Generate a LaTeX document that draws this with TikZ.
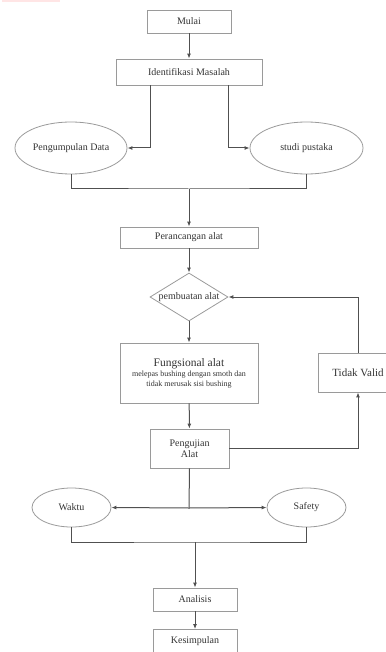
\documentclass[tikz,border=0pt]{standalone}
\usepackage{fontspec}
\setmainfont{Liberation Serif}
\usetikzlibrary{shapes.geometric,arrows.meta}
\definecolor{txt}{HTML}{333333}
\definecolor{bord}{HTML}{9A9A9A}
\definecolor{ln}{HTML}{505050}
\begin{document}
\begin{tikzpicture}[x=1pt,y=-1pt,
  box/.style={draw=bord,line width=0.8pt,rectangle,minimum height=#1,inner sep=0pt,text=txt,font=\fontsize{10}{11}\selectfont},
  box/.default=23pt,
  ell/.style={draw=bord,line width=0.8pt,ellipse,inner sep=0pt,text=txt,font=\fontsize{10}{11}\selectfont},
  conn/.style={draw=ln,line width=1pt},
  arr/.style={conn,-{Latex[length=5pt,width=4pt]}}
]
\useasboundingbox (0,0) rectangle (385,652);
\fill[red!10] (2,0) rectangle (60,2);
\node[box=23pt,minimum width=84pt] (mulai) at (189,21.5) {Mulai};
\node[box=26pt,minimum width=146pt] (ident) at (189,72) {Identifikasi Masalah};
\node[ell,minimum width=112pt,minimum height=52pt] (data) at (71,148) {Pengumpulan Data};
\node[ell,minimum width=113pt,minimum height=52pt] (studi) at (306.5,148) {studi pustaka};
\node[box=21pt,minimum width=138pt] (rancang) at (189,237.5) {Perancangan alat};
\node[draw=bord,line width=0.8pt,diamond,aspect=1.62,minimum width=78pt,minimum height=48pt,inner sep=0pt,text=txt,font=\fontsize{10}{11}\selectfont] (buat) at (189,297) {pembuatan alat};
\node[box=60pt,minimum width=138pt,align=center] (fungsi) at (189,373) {{\fontsize{11.5}{13}\selectfont Fungsional alat}\\[-1pt]{\fontsize{8}{9}\selectfont melepas bushing dengan smoth dan}\\[-1pt]{\fontsize{8}{9}\selectfont tidak merusak sisi bushing}};
\node[box=39pt,minimum width=80pt] (valid) at (358,372.5) {\fontsize{11}{12}\selectfont Tidak Valid};
\node[box=39pt,minimum width=79pt,align=center] (uji) at (189.5,448.5) {\fontsize{10}{7.5}\selectfont Pengujian\\Alat};
\node[ell,minimum width=79pt,minimum height=39pt] (waktu) at (71.5,507.5) {Waktu};
\node[ell,minimum width=79pt,minimum height=39pt] (safety) at (306.5,507.5) {Safety};
\node[box=23pt,minimum width=84pt] (analisis) at (195,599.5) {Analisis};
\node[box=23pt,minimum width=84pt] (simpul) at (195,641) {Kesimpulan};
\coordinate (j1) at (189,189);
\coordinate (j2) at (189,508);
\coordinate (j3) at (195,542);
\draw[arr] (mulai) -- (ident);
\draw[arr] (ident.south -| 150,0) |- (data.east);
\draw[arr] (ident.south -| 228,0) |- (studi.west);
\draw[conn] (data.south) |- (j1) -| (studi.south);
\draw[arr] (j1) -- (rancang.north);
\draw[arr] (rancang) -- (buat);
\draw[arr] (buat) -- (fungsi);
\draw[arr] (fungsi) -- (uji);
\draw[arr] (valid.north) |- (buat.east);
\draw[arr] (uji.east) -| (valid.south);
\draw[conn] (uji.south) -- (j2);
\draw[arr] (j2) -- (waktu.east);
\draw[arr] (j2) -- (safety.west);
\draw[conn] (waktu.south) |- (j3) -| (safety.south);
\draw[arr] (j3) -- (analisis.north);
\draw[arr] (analisis) -- (simpul);
\end{tikzpicture}
\end{document}
